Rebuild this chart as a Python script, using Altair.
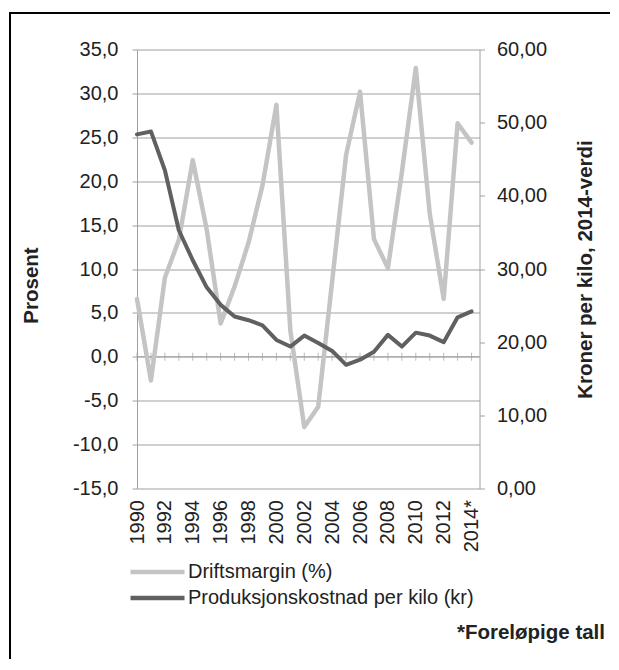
import altair as alt
import pandas as pd

years = list(range(1990, 2015))
driftsmargin = [6.6, -2.7, 9.0, 13.3, 22.4, 14.5, 3.8, 8.0, 13.0, 19.5, 28.7,
                3.0, -8.0, -5.7, 8.6, 23.0, 30.2, 13.4, 10.1, 21.0, 32.9,
                16.3, 6.6, 26.6, 24.4]
kostnad = [48.4, 48.8, 43.5, 35.3, 31.2, 27.5, 25.1, 23.5, 23.0, 22.3, 20.3,
           19.4, 20.9, 19.9, 18.8, 16.9, 17.6, 18.7, 21.0, 19.4, 21.3,
           20.9, 20.0, 23.4, 24.2]
series_names = ["Driftsmargin (%)", "Produksjonskostnad per kilo (kr)"]
left_ticks = [-15, -10, -5, 0, 5, 10, 15, 20, 25, 30, 35]
right_ticks = [0, 10, 20, 30, 40, 50, 60]
x_label_years = list(range(1990, 2015, 2))
left_title = "Prosent"
right_title = "Kroner per kilo, 2014-verdi"
footnote = "*Foreløpige tall"

LIGHT = "#c4c4c4"
DARK = "#606060"
GRID = "#a0a0a0"
TEXT = "#222222"
FONT = "Liberation Sans"

W = 342.5
H = 439

df = pd.DataFrame({"year": years, "margin": driftsmargin, "cost": kostnad})
df["s1"] = series_names[0]
df["s2"] = series_names[1]

xscale = alt.Scale(domain=[1990, 2014.57], nice=False, zero=False)
yl = alt.Scale(domain=[-15, 35], nice=False, zero=False)
yr = alt.Scale(domain=[0, 60], nice=False, zero=False)
cscale = alt.Scale(domain=series_names, range=[LIGHT, DARK])

x_axis = alt.Axis(
    values=x_label_years,
    labelExpr="datum.value == 2014 ? '2014*' : '' + datum.value",
    labelAngle=270, labelAlign="right", labelBaseline="middle",
    labelPadding=11, ticks=False, domain=False, grid=False,
    labelFontSize=20, labelFont=FONT, labelColor=TEXT, title=None,
    labelFlush=False, labelOverlap=False,
)
x_enc = alt.X("year:Q", scale=xscale, axis=x_axis)

left_axis = alt.Axis(
    values=left_ticks,
    labelExpr="(datum.value < 0 ? '-' : '') + replace(format(abs(datum.value), '.1f'), '.', ',')",
    grid=True, gridColor=GRID, gridWidth=1,
    tickSize=5, tickColor=GRID, domainColor=GRID,
    labelPadding=14, labelFontSize=20, labelFont=FONT, labelColor=TEXT,
    title=left_title, titleFont=FONT, titleFontSize=20.5, titleFontWeight="bold",
    titleColor=TEXT, titleAngle=270, titleAlign="center", titleBaseline="middle",
    titleX=-106, titleY=235.5,
)
right_axis = alt.Axis(
    orient="right",
    values=right_ticks,
    labelExpr="replace(format(datum.value, '.2f'), '.', ',')",
    grid=False, tickSize=5, tickColor=GRID, domainColor=GRID,
    labelPadding=12, labelFontSize=20, labelFont=FONT, labelColor=TEXT,
    title=right_title, titleFont=FONT, titleFontSize=20.5, titleFontWeight="bold",
    titleColor=TEXT, titleAngle=270, titleAlign="center", titleBaseline="middle",
    titleX=105.5, titleY=219.5,
)

base = alt.Chart(df)

zero_line = base.transform_filter("datum.year == 1990").transform_calculate(z="0").mark_rule(
    color=GRID, strokeWidth=1
).encode(y=alt.Y("z:Q", scale=yl, axis=left_axis))

zero_ticks = base.transform_calculate(z="0").mark_tick(
    orient="vertical", size=8, thickness=1, color=GRID
).encode(x=x_enc, y=alt.Y("z:Q", scale=yl, axis=left_axis))

margin_line = base.mark_line(strokeWidth=4.5, strokeJoin="round", strokeCap="round").encode(
    x=x_enc,
    y=alt.Y("margin:Q", scale=yl, axis=left_axis),
    color=alt.Color("s1:N", scale=cscale, legend=alt.Legend(title=None)),
)

left = alt.layer(zero_line, zero_ticks, margin_line)

cost_line = base.mark_line(strokeWidth=4, strokeJoin="round", strokeCap="round").encode(
    x=x_enc,
    y=alt.Y("cost:Q", scale=yr, axis=right_axis),
    color=alt.Color("s2:N", scale=cscale, legend=alt.Legend(title=None)),
)

note = alt.Chart(pd.DataFrame({"t": [footnote]})).mark_text(
    align="right", baseline="alphabetic", fontSize=20.5, fontWeight="bold",
    font=FONT, color=TEXT
).encode(text="t:N", x=alt.value(468), y=alt.value(589.5))

frame_df = pd.DataFrame({"a": [0]})
frame_left = alt.Chart(frame_df).mark_rule(color="black", strokeWidth=2, strokeCap="square").encode(
    x=alt.value(-127), y=alt.value(-36.5), y2=alt.value(625)
)
frame_top = alt.Chart(frame_df).mark_rule(color="black", strokeWidth=2, strokeCap="square").encode(
    x=alt.value(-127), x2=alt.value(490), y=alt.value(-36.5)
)

chart = alt.layer(left, cost_line, note, frame_left, frame_top).resolve_scale(
    y="independent"
).properties(
    width=W, height=H,
    autosize=alt.AutoSizeParams(type="none"),
    padding={"left": 129, "top": 41.5, "right": 130, "bottom": 170},
).configure_view(stroke=None).configure_legend(
    orient="none", legendX=-9, legendY=509.5, direction="vertical",
    symbolType="stroke", symbolSize=2916, symbolStrokeWidth=4.5,
    labelFontSize=20, labelFont=FONT, labelColor=TEXT, labelOffset=1,
    labelLimit=500, rowPadding=0, clipHeight=26,
)

chart.save("out.html", embed_options={"renderer": "svg", "actions": False})
